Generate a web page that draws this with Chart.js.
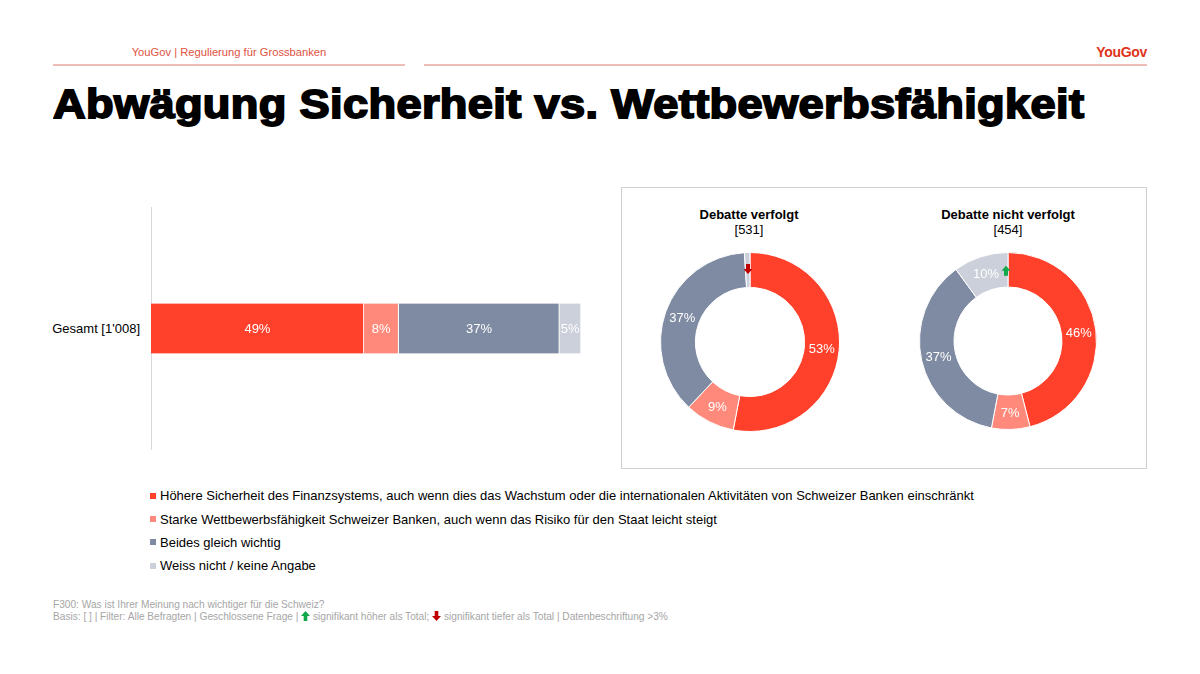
<!DOCTYPE html>
<html><head><meta charset="utf-8">
<script src="https://cdn.jsdelivr.net/npm/chart.js@4.4.1/dist/chart.umd.min.js"></script>
<style>
html,body{margin:0;padding:0;background:#fff;width:1200px;height:674px;overflow:hidden;font-family:"Liberation Sans",Arial,sans-serif;}
.abs{position:absolute;}
#hdr{left:53px;width:352px;top:46px;text-align:center;font-size:11.2px;color:#E0533F;}
.hline{height:2px;background:#EDBDB8;top:64px;}
#logo{right:53px;top:44px;font-family:"Liberation Sans Narrow","Liberation Sans",sans-serif;font-weight:bold;font-size:14px;color:#E0331C;letter-spacing:-0.3px;}
#title{left:53px;top:82px;font-size:40px;font-weight:bold;color:#000;-webkit-text-stroke:1.8px #000;white-space:nowrap;letter-spacing:0.3px;transform:scaleX(1.13);transform-origin:0 0;}
#box{left:621px;top:187px;width:524px;height:280px;border:1px solid #CFCFCF;}
.dt{font-size:13px;color:#000;text-align:center;width:240px;line-height:15px;}
.dt b{font-weight:bold;}
#legend{left:150px;top:484px;font-size:13px;color:#000;}
#legend div{height:23.4px;display:flex;align-items:center;}
#legend span.sw{display:inline-block;width:6px;height:6px;margin-right:4px;}
#foot{left:53px;top:599px;font-size:10.15px;color:#A6A6A6;line-height:12px;}
#gl{left:0;width:140px;top:321px;text-align:right;font-size:13px;color:#000;}
</style></head><body>
<div id="hdr" class="abs">YouGov | Regulierung für Grossbanken</div>
<div class="abs hline" style="left:53px;width:352px"></div>
<div class="abs hline" style="left:424px;width:723px"></div>
<div id="logo" class="abs">YouGov</div>
<div id="title" class="abs">Abwägung Sicherheit vs. Wettbewerbsfähigkeit</div>

<div id="gl" class="abs"></div>
<canvas id="bar" class="abs" style="left:0;top:207px;width:581px;height:243px"></canvas>

<div id="box" class="abs"></div>
<div class="abs dt" style="left:629px;top:207px"><b id="t1"></b><br><span id="n1"></span></div>
<div class="abs dt" style="left:888px;top:207px"><b id="t2"></b><br><span id="n2"></span></div>
<canvas id="d1" class="abs" style="left:660px;top:252px;width:180px;height:180px"></canvas>
<canvas id="d2" class="abs" style="left:919px;top:252px;width:178px;height:178px"></canvas>

<div id="legend" class="abs"></div>
<div id="foot" class="abs">F300: Was ist Ihrer Meinung nach wichtiger für die Schweiz?<br>Basis: [ ] | Filter: Alle Befragten | Geschlossene Frage | <svg width="9" height="10" viewBox="0 0 9 10" style="vertical-align:-1px"><path d="M4.5 0 L9 5 L6.3 5 L6.3 10 L2.7 10 L2.7 5 L0 5 Z" fill="#12A84B"/></svg> signifikant höher als Total; <svg width="9" height="10" viewBox="0 0 9 10" style="vertical-align:-1px"><path d="M4.5 10 L9 5 L6.3 5 L6.3 0 L2.7 0 L2.7 5 L0 5 Z" fill="#C00000"/></svg> signifikant tiefer als Total | Datenbeschriftung &gt;3%</div>

<script>
// ---- data ----
const categories = [
  "Höhere Sicherheit des Finanzsystems, auch wenn dies das Wachstum oder die internationalen Aktivitäten von Schweizer Banken einschränkt",
  "Starke Wettbewerbsfähigkeit Schweizer Banken, auch wenn das Risiko für den Staat leicht steigt",
  "Beides gleich wichtig",
  "Weiss nicht / keine Angabe"
];
const colors = ["#FF412C", "#FF8A7B", "#7F8BA3", "#CCD0DA"];
const totalLabel = "Gesamt [1'008]";
const totalValues = [49, 8, 37, 5];
const donut1Title = "Debatte verfolgt";
const donut1Base = "[531]";
const donut1Values = [53, 9, 37, 1];
const donut1Arrow = "down";
const donut2Title = "Debatte nicht verfolgt";
const donut2Base = "[454]";
const donut2Values = [46, 7, 37, 10];
const donut2Arrow = "up";
const labelThreshold = 3;

document.getElementById('gl').textContent = totalLabel;
document.getElementById('t1').textContent = donut1Title;
document.getElementById('n1').textContent = donut1Base;
document.getElementById('t2').textContent = donut2Title;
document.getElementById('n2').textContent = donut2Base;
const lg = document.getElementById('legend');
categories.forEach((c,i)=>{
  const d=document.createElement('div');
  d.innerHTML='<span class="sw" style="background:'+colors[i]+'"></span>';
  d.appendChild(document.createTextNode(c));
  lg.appendChild(d);
});

const FONT = '"Liberation Sans", Arial, sans-serif';
Chart.defaults.font.family = FONT;

const barLabels = {
  id:'barLabels',
  afterDatasetsDraw(chart){
    const ctx=chart.ctx;
    ctx.save();
    ctx.fillStyle='#fff';
    ctx.font='13px '+FONT;
    ctx.textAlign='center';ctx.textBaseline='middle';
    chart.data.datasets.forEach((ds,i)=>{
      const meta=chart.getDatasetMeta(i);
      meta.data.forEach((el,j)=>{
        const v=ds.data[j];
        if(v<=labelThreshold)return;
        const x=(el.x+el.base)/2;
        ctx.fillText(v+'%',x,el.y+1);
      });
    });
    ctx.restore();
  }
};

new Chart(document.getElementById('bar'),{
  type:'bar',
  data:{labels:[''],datasets:categories.map((c,i)=>({label:c,data:[totalValues[i]],backgroundColor:colors[i],borderColor:'#fff',borderWidth:{left:0,right:1,top:0,bottom:0},borderSkipped:false,barThickness:50}))},
  options:{
    indexAxis:'y',responsive:false,animation:false,devicePixelRatio:1,
    layout:{padding:0},
    plugins:{legend:{display:false},tooltip:{enabled:false}},
    scales:{
      x:{stacked:true,min:0,max:totalValues.reduce((a,b)=>a+b,0),display:false},
      y:{stacked:true,grid:{display:false},ticks:{display:false},border:{display:true,color:'#D9D9D9',width:1},
         afterFit(s){s.width=151;}}
    }
  },
  plugins:[barLabels]
});

function arrowPlugin(dir){
  return {
    id:'arrow',
    afterDatasetsDraw(chart){
      const ctx=chart.ctx;
      const meta=chart.getDatasetMeta(0);
      const arcs=meta.data;
      const ds=chart.data.datasets[0].data;
      ctx.save();
      ctx.fillStyle='#fff';ctx.font='13px '+FONT;ctx.textAlign='center';ctx.textBaseline='middle';
      arcs.forEach((a,j)=>{
        if(ds[j]<=labelThreshold)return;
        const m=(a.startAngle+a.endAngle)/2;
        const r=(a.innerRadius+a.outerRadius)/2;
        ctx.fillText(ds[j]+'%',a.x+Math.cos(m)*r,a.y+Math.sin(m)*r+1);
      });
      const last=arcs[arcs.length-1];
      const r=(last.innerRadius+last.outerRadius)/2+(dir==='down'?1:-1);
      const ax=last.x+Math.cos(last.endAngle)*r-2;
      const ay=last.y+Math.sin(last.endAngle)*r;
      ctx.fillStyle=dir==='down'?'#C00000':'#12A84B';
      ctx.beginPath();
      if(dir==='down'){
        ctx.moveTo(ax-2,ay-5);ctx.lineTo(ax+2,ay-5);ctx.lineTo(ax+2,ay);ctx.lineTo(ax+4.5,ay);
        ctx.lineTo(ax,ay+5);ctx.lineTo(ax-4.5,ay);ctx.lineTo(ax-2,ay);
      }else{
        ctx.moveTo(ax-2,ay+5);ctx.lineTo(ax+2,ay+5);ctx.lineTo(ax+2,ay);ctx.lineTo(ax+4.5,ay);
        ctx.lineTo(ax,ay-5);ctx.lineTo(ax-4.5,ay);ctx.lineTo(ax-2,ay);
      }
      ctx.closePath();ctx.fill();
      ctx.restore();
    }
  };
}

function donut(id,values,dir){
  new Chart(document.getElementById(id),{
    type:'doughnut',
    data:{labels:categories,datasets:[{data:values,backgroundColor:colors,borderColor:'#fff',borderWidth:1}]},
    options:{responsive:false,animation:false,devicePixelRatio:1,cutout:'61%',layout:{padding:0},
      plugins:{legend:{display:false},tooltip:{enabled:false}}},
    plugins:[arrowPlugin(dir)]
  });
}
donut('d1',donut1Values,donut1Arrow);
donut('d2',donut2Values,donut2Arrow);
</script>
</body></html>
